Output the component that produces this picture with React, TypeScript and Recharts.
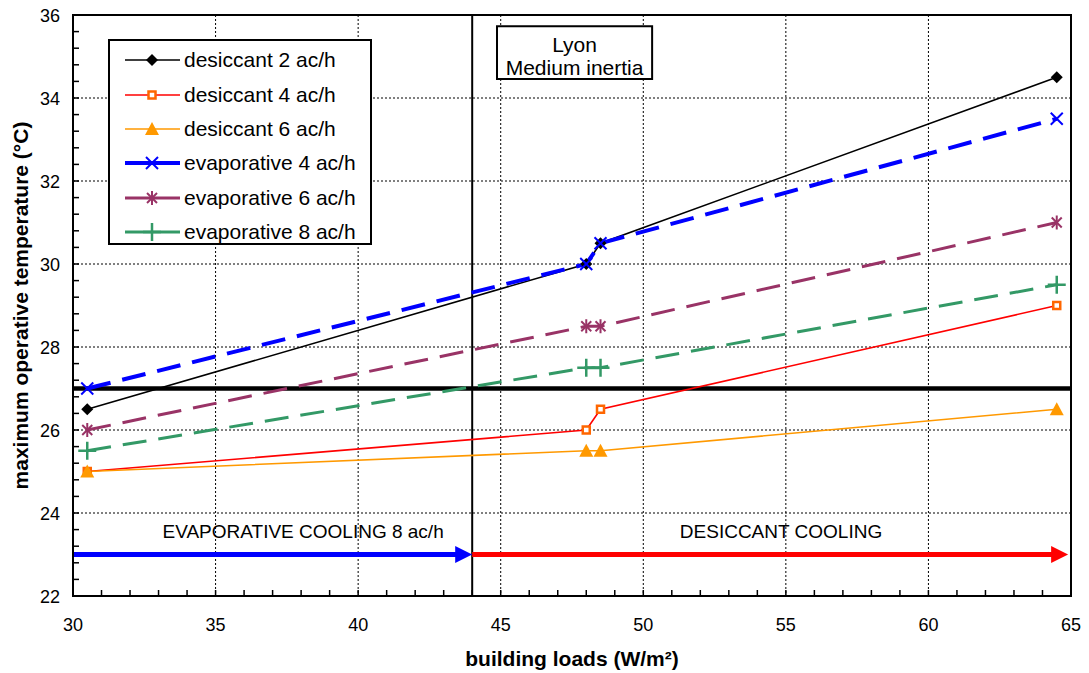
import { LineChart, Line, XAxis, YAxis, CartesianGrid, ReferenceLine, ReferenceArea, ReferenceDot, Legend } from 'recharts'

// building loads (W/m²) at which each case was simulated
const loads = [30.5, 48, 48.5, 64.5]

// maximum operative temperature (°C)
const desiccant2 = [26.5, 30, 30.5, 34.5]
const desiccant4 = [25, 26, 26.5, 29]
const desiccant6 = [25, 25.5, 25.5, 26.5]
const evaporative4 = [27, 30, 30.5, 33.5]
const evaporative6 = [26, 28.5, 28.5, 31]
const evaporative8 = [25.5, 27.5, 27.5, 29.5]

const xTicks = Array.from({ length: 36 }, (_, i) => 30 + i)
const xLabels = [30, 35, 40, 45, 50, 55, 60, 65]
const yTicks = Array.from({ length: 36 }, (_, i) => Math.round((22 + i * 0.4) * 10) / 10)
const yLabels = [22, 24, 26, 28, 30, 32, 34, 36]
const xGrid = [35, 40, 45, 50, 55, 60]
const yGrid = [24, 26, 28, 30, 32, 34]

const comfortLimit = 27
const switchLoad = 44
const arrowLevel = 23
const arrowEnd = 64.9

const FONT = '"Liberation Sans", Arial, sans-serif'

type MarkerKind = 'diamond' | 'square' | 'triangle' | 'cross' | 'star' | 'plus'

const Marker = ({ kind, cx, cy, color }: { kind: MarkerKind; cx: number; cy: number; color: string }) => {
  switch (kind) {
    case 'diamond':
      return <polygon points={`${cx},${cy - 6} ${cx + 6},${cy} ${cx},${cy + 6} ${cx - 6},${cy}`} fill={color} />
    case 'square':
      return <rect x={cx - 3.5} y={cy - 3.5} width={7} height={7} fill="#fff" stroke={color} strokeWidth={2.5} />
    case 'triangle':
      return <polygon points={`${cx},${cy - 7} ${cx + 7},${cy + 6} ${cx - 7},${cy + 6}`} fill={color} />
    case 'cross':
      return (
        <g stroke={color} strokeWidth={2}>
          <line x1={cx - 6} y1={cy - 6} x2={cx + 6} y2={cy + 6} />
          <line x1={cx - 6} y1={cy + 6} x2={cx + 6} y2={cy - 6} />
        </g>
      )
    case 'star':
      return (
        <g stroke={color} strokeWidth={2}>
          <line x1={cx - 5} y1={cy - 5} x2={cx + 5} y2={cy + 5} />
          <line x1={cx - 5} y1={cy + 5} x2={cx + 5} y2={cy - 5} />
          <line x1={cx} y1={cy - 7} x2={cx} y2={cy + 7} />
        </g>
      )
    default:
      return (
        <g stroke={color} strokeWidth={2.5}>
          <line x1={cx - 9} y1={cy} x2={cx + 9} y2={cy} />
          <line x1={cx} y1={cy - 9} x2={cx} y2={cy + 9} />
        </g>
      )
  }
}

const series = [
  { key: 'd2', name: 'desiccant 2 ac/h', values: desiccant2, color: '#000000', markColor: '#000000', width: 1.6, dash: undefined, marker: 'diamond' as MarkerKind },
  { key: 'd4', name: 'desiccant 4 ac/h', values: desiccant4, color: '#ff0000', markColor: '#ff6600', width: 1.6, dash: undefined, marker: 'square' as MarkerKind },
  { key: 'd6', name: 'desiccant 6 ac/h', values: desiccant6, color: '#ff9900', markColor: '#ff9900', width: 1.6, dash: undefined, marker: 'triangle' as MarkerKind },
  { key: 'e4', name: 'evaporative 4 ac/h', values: evaporative4, color: '#0000ff', markColor: '#0000ff', width: 4, dash: '24 12', marker: 'cross' as MarkerKind },
  { key: 'e6', name: 'evaporative 6 ac/h', values: evaporative6, color: '#993366', markColor: '#993366', width: 3, dash: '24 12', marker: 'star' as MarkerKind },
  { key: 'e8', name: 'evaporative 8 ac/h', values: evaporative8, color: '#339966', markColor: '#339966', width: 3, dash: '24 12', marker: 'plus' as MarkerKind },
]

const data = loads.map((load, i) => {
  const row: Record<string, number> = { load }
  series.forEach(s => { row[s.key] = s.values[i] })
  return row
})

const YTick = ({ x, y, payload }: any) => (
  <g>
    <line x1={x} y1={y} x2={x + 6} y2={y} stroke="#000" strokeWidth={1.5} />
    {yLabels.includes(payload.value) && (
      <text x={x - 13} y={y} dy={6.5} textAnchor="end" fontSize={18} fontFamily={FONT} fill="#000">{payload.value}</text>
    )}
  </g>
)

const XTick = ({ x, y, payload }: any) => (
  <g>
    <line x1={x} y1={y} x2={x} y2={y - 6} stroke="#000" strokeWidth={1.5} />
    {xLabels.includes(payload.value) && (
      <text x={x} y={y + 35} textAnchor="middle" fontSize={18} fontFamily={FONT} fill="#000">{payload.value}</text>
    )}
  </g>
)

const Arrow = (color: string) => (props: any) => {
  const { x1, y1, x2, y2 } = props
  return (
    <g>
      <line x1={x1} y1={y1} x2={x2 - 14} y2={y2} stroke={color} strokeWidth={5} />
      <polygon points={`${x2},${y2} ${x2 - 17},${y2 - 8.5} ${x2 - 17},${y2 + 8.5}`} fill={color} />
    </g>
  )
}

const LegendBox = () => (
  <div style={{ width: 260, height: 200, border: '2px solid #000', background: '#fff', fontFamily: FONT, paddingTop: 2 }}>
    {series.map(s => (
      <div key={s.key} style={{ display: 'flex', alignItems: 'center', height: 34.4 }}>
        <svg width={74} height={24} style={{ flex: 'none' }}>
          <line x1={15} y1={12} x2={70} y2={12} stroke={s.color} strokeWidth={s.width} />
          <Marker kind={s.marker} cx={42} cy={12} color={s.markColor} />
        </svg>
        <span style={{ fontSize: 21, color: '#000', whiteSpace: 'nowrap' }}>{s.name}</span>
      </div>
    ))}
  </div>
)

const PlaceLabel = ({ viewBox }: any) => {
  const cx = viewBox.x + viewBox.width / 2
  return (
    <g fontFamily={FONT} fontSize={21} fill="#000" textAnchor="middle">
      <text x={cx} y={viewBox.y + 26}>Lyon</text>
      <text x={cx} y={viewBox.y + 49}>Medium inertia</text>
    </g>
  )
}

export default function App() {
  return (
    <div style={{ position: 'absolute', left: 0, top: 0, background: '#fff' }}>
      <LineChart width={1089} height={673} data={data} margin={{ top: 15, right: 18, bottom: 0, left: 0 }}>
        <CartesianGrid horizontalValues={yGrid} verticalValues={xGrid} stroke="#000" strokeDasharray="2 2" strokeWidth={1} />
        <XAxis
          dataKey="load" type="number" domain={[30, 65]} ticks={xTicks} interval={0}
          tick={<XTick />} tickLine={false} tickSize={0} tickMargin={0} height={77}
          axisLine={{ stroke: '#000', strokeWidth: 2 }}
          label={{ value: 'building loads (W/m²)', position: 'center', dy: 24, fontSize: 21, fontWeight: 'bold', fontFamily: FONT, fill: '#000' }}
        />
        <YAxis
          type="number" domain={[22, 36]} ticks={yTicks} interval={0}
          tick={<YTick />} tickLine={false} tickSize={0} tickMargin={0} width={73}
          axisLine={{ stroke: '#000', strokeWidth: 2 }}
          label={{ value: 'maximum operative temperature (°C)', angle: -90, position: 'center', dx: -16, fontSize: 21, fontWeight: 'bold', fontFamily: FONT, fill: '#000' }}
        />
        <ReferenceArea x1={30} x2={65} y1={22} y2={36} fill="none" stroke="#000" strokeWidth={2} />
        <ReferenceLine y={comfortLimit} stroke="#000" strokeWidth={4.5} />
        <ReferenceLine x={switchLoad} stroke="#000" strokeWidth={2} />
        <ReferenceArea x1={44.87} x2={50.31} y1={34.46} y2={35.73} fill="#fff" fillOpacity={1} stroke="#000" strokeWidth={2} label={<PlaceLabel />} />
        <ReferenceLine segment={[{ x: 30, y: arrowLevel }, { x: switchLoad, y: arrowLevel }]} shape={Arrow('#0000ff')} />
        <ReferenceLine segment={[{ x: switchLoad, y: arrowLevel }, { x: arrowEnd, y: arrowLevel }]} shape={Arrow('#ff0000')} />
        <ReferenceDot x={38.07} y={23.57} r={0} stroke="none" label={{ value: 'EVAPORATIVE COOLING 8 ac/h', position: 'center', fontSize: 19, fontFamily: FONT, fill: '#000' }} />
        <ReferenceDot x={54.83} y={23.57} r={0} stroke="none" label={{ value: 'DESICCANT COOLING', position: 'center', fontSize: 19, fontFamily: FONT, fill: '#000' }} />
        {series.map(s => (
          <Line
            key={s.key} dataKey={s.key} name={s.name} type="linear"
            stroke={s.color} strokeWidth={s.width} strokeDasharray={s.dash}
            isAnimationActive={false}
            dot={(p: any) => <Marker key={`${s.key}-${p.index}`} kind={s.marker} cx={p.cx} cy={p.cy} color={s.markColor} />}
            activeDot={false}
          />
        ))}
        <Legend
          layout="vertical" align="center" verticalAlign="middle"
          content={<LegendBox />}
          wrapperStyle={{ position: 'absolute', left: 108, top: 39, width: 264, height: 204 }}
        />
      </LineChart>
    </div>
  )
}
